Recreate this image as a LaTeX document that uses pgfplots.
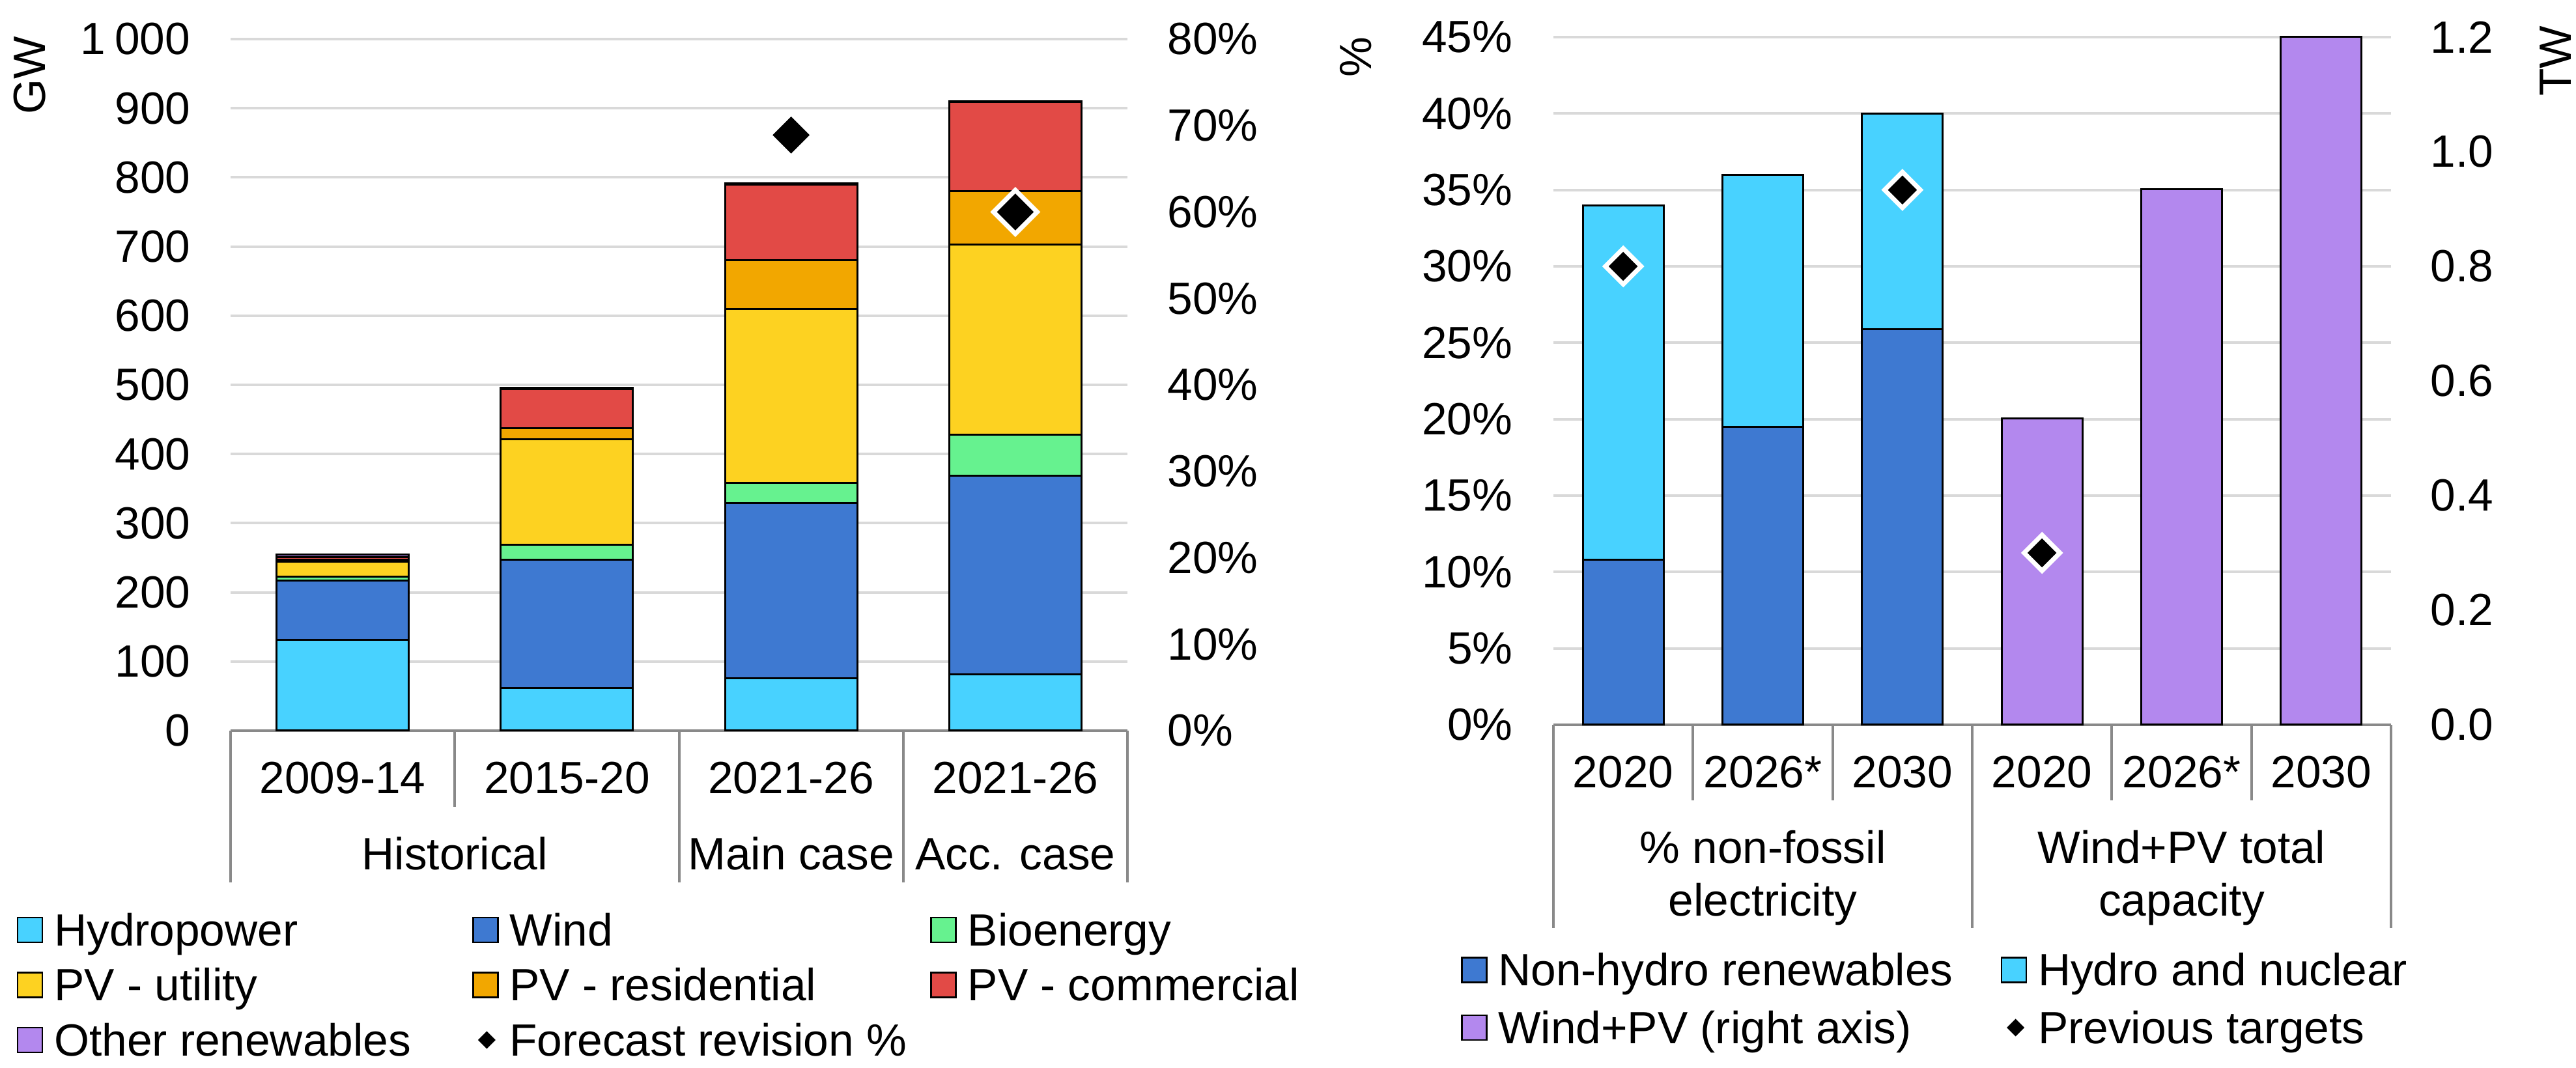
\documentclass[border=0pt]{standalone}
\usepackage{fontspec}
\setmainfont{Liberation Sans}
\usepackage{pgfplots}
\pgfplotsset{compat=1.18}
\newcommand\fs{\fontsize{19.75}{23.7}\selectfont}
\definecolor{hydro}{HTML}{48D2FF}
\definecolor{wind}{HTML}{3E79D1}
\definecolor{bio}{HTML}{66F28F}
\definecolor{pvu}{HTML}{FDD221}
\definecolor{pvr}{HTML}{F2A700}
\definecolor{pvc}{HTML}{E24A46}
\definecolor{other}{HTML}{B388EE}
\definecolor{windpv}{HTML}{B388EE}
\definecolor{gridgray}{HTML}{D9D9D9}
\definecolor{axisgray}{HTML}{898989}
\pgfplotsset{
  every axis/.append style={font=\fs},
  base/.style={
    scale only axis, enlargelimits=false, clip=false,
    major tick length=0pt, xtick style={draw=none}, ytick style={draw=none},
    axis line style={-},
  },
}
\newcommand\sep[2]{\draw[axisgray, line width=0.4mm] (axis cs:#1,0) -- ([yshift=-#2]axis cs:#1,0);}
\begin{document}
\begin{tikzpicture}[font=\fs]
\path[use as bounding box] (0,0) rectangle (395.5mm,164mm);

% ---------------- LEFT PANEL ----------------
\begin{axis}[base,
  at={(35.4mm,51.8mm)}, anchor=south west,
  width=137.7mm, height=106.2mm,
  xmin=-0.5, xmax=3.5, ymin=0, ymax=1000,
  ybar stacked, bar width=0.59,
  axis x line*=bottom, axis y line*=left,
  x axis line style={draw=axisgray, line width=0.45mm},
  y axis line style={draw=none},
  ymajorgrids, grid style={draw=gridgray, line width=0.4mm},
  ytick={0,100,200,300,400,500,600,700,800,900,1000},
  yticklabels={0,100,200,300,400,500,600,700,800,900,{1\hspace{0.2em}000}},
  yticklabel style={anchor=east, inner sep=0pt, xshift=-6.1mm},
  xtick={0,1,2,3},
  xticklabels={2009-14,2015-20,2021-26,2021-26},
  xticklabel style={anchor=base, inner sep=0pt, yshift=-9.7mm},
  every axis plot/.append style={draw=black, line width=0.3mm},
  legend image code/.code={\draw[#1,draw=black,line width=0.25mm] (0mm,-1.9mm) rectangle (3.8mm,1.9mm); \path[draw=none] (0mm,0mm) (5.6mm,0mm);},
  legend columns=3, legend cell align=left,
  legend style={draw=none, fill=none, inner sep=0pt, outer sep=0pt,
    at={(-0.2382,-0.24835)}, anchor=north west,
    column sep=0pt, row sep=0pt,
    /tikz/every even column/.style={column sep=0pt},
    /tikz/every odd column/.style={column sep=0pt},
    nodes={inner sep=0pt, outer sep=0pt, text height=6.65mm, text depth=1.8mm}},
]
\addplot[fill=hydro] coordinates {(0,131) (1,62) (2,76) (3,81)};
\addlegendentry{\makebox[64.2mm][l]{Hydropower}}
\addplot[fill=wind] coordinates {(0,86) (1,185) (2,253) (3,288)};
\addlegendentry{\makebox[64.6mm][l]{Wind}}
\addplot[fill=bio] coordinates {(0,6) (1,22) (2,29) (3,59)};
\addlegendentry{Bioenergy}
\addplot[fill=pvu] coordinates {(0,21) (1,152) (2,252) (3,275)};
\addlegendentry{\makebox[64.2mm][l]{PV - utility}}
\addplot[fill=pvr] coordinates {(0,3) (1,16) (2,70) (3,77)};
\addlegendentry{\makebox[64.6mm][l]{PV - residential}}
\addplot[fill=pvc] coordinates {(0,4) (1,57) (2,110) (3,129)};
\addlegendentry{PV - commercial}
\addplot[fill=other] coordinates {(0,4) (1,2) (2,1) (3,1)};
\addlegendentry{\makebox[64.2mm][l]{Other renewables}}
\addlegendimage{legend image code/.code={\fill[black,draw=none] (2.1mm,1.35mm) -- (3.45mm,0mm) -- (2.1mm,-1.35mm) -- (0.75mm,0mm) -- cycle; \path[draw=none] (0mm,0mm) (5.6mm,0mm);}}
\addlegendentry{Forecast revision \%}
% category separators and group labels
\sep{-0.5}{23.3mm}
\sep{0.5}{11.7mm}
\sep{1.5}{23.3mm}
\sep{2.5}{23.3mm}
\sep{3.5}{23.3mm}
\node[anchor=base, inner sep=0pt, yshift=-21.4mm] at (axis cs:0.5,0) {Historical};
\node[anchor=base, inner sep=0pt, yshift=-21.4mm] at (axis cs:2,0) {Main case};
\node[anchor=base, inner sep=0pt, yshift=-21.4mm] at (axis cs:3,0) {Acc. case};
\end{axis}

\begin{axis}[base,
  at={(35.4mm,51.8mm)}, anchor=south west,
  width=137.7mm, height=106.2mm,
  xmin=-0.5, xmax=3.5, ymin=0, ymax=80,
  hide x axis,
  axis y line*=right, y axis line style={draw=none},
  ytick={0,10,20,30,40,50,60,70,80},
  yticklabels={0\%,10\%,20\%,30\%,40\%,50\%,60\%,70\%,80\%},
  yticklabel style={anchor=west, inner sep=0pt, xshift=6.1mm},
]
\addplot[only marks, mark=square*, mark size=2.37mm,
  mark options={rotate=45, fill=black, draw=white, line width=0.7mm}]
  coordinates {(2,68.9) (3,60.0)};
\end{axis}

% ---------------- RIGHT PANEL ----------------
\begin{axis}[base,
  at={(238.5mm,52.7mm)}, anchor=south west,
  width=128.6mm, height=105.6mm,
  xmin=-0.5, xmax=5.5, ymin=0, ymax=45,
  ybar stacked, bar width=0.578,
  axis x line*=bottom, axis y line*=left,
  x axis line style={draw=axisgray, line width=0.45mm},
  y axis line style={draw=none},
  ymajorgrids, grid style={draw=gridgray, line width=0.4mm},
  ytick={0,5,10,15,20,25,30,35,40,45},
  yticklabels={0\%,5\%,10\%,15\%,20\%,25\%,30\%,35\%,40\%,45\%},
  yticklabel style={anchor=east, inner sep=0pt, xshift=-6.2mm},
  xtick={0,1,2,3,4,5},
  xticklabels={2020,2026*,2030,2020,2026*,2030},
  xticklabel style={anchor=base, inner sep=0pt, yshift=-9.7mm},
  every axis plot/.append style={draw=black, line width=0.3mm},
]
\addplot[fill=wind] coordinates {(0,10.8) (1,19.5) (2,25.9)};
\addplot[fill=hydro] coordinates {(0,23.2) (1,16.5) (2,14.1)};
\sep{-0.5}{31.2mm}
\sep{0.5}{11.6mm}
\sep{1.5}{11.6mm}
\sep{2.5}{31.2mm}
\sep{3.5}{11.6mm}
\sep{4.5}{11.6mm}
\sep{5.5}{31.2mm}
\node[anchor=base, inner sep=0pt, yshift=-21.25mm] at (axis cs:1,0) {\% non-fossil};
\node[anchor=base, inner sep=0pt, yshift=-29.35mm] at (axis cs:1,0) {electricity};
\node[anchor=base, inner sep=0pt, yshift=-21.25mm] at (axis cs:4,0) {Wind+PV total};
\node[anchor=base, inner sep=0pt, yshift=-29.35mm] at (axis cs:4,0) {capacity};
\end{axis}

\begin{axis}[base,
  at={(238.5mm,52.7mm)}, anchor=south west,
  width=128.6mm, height=105.6mm,
  xmin=-0.5, xmax=5.5, ymin=0, ymax=1.2,
  hide x axis,
  axis y line*=right, y axis line style={draw=none},
  ytick={0,0.2,0.4,0.6,0.8,1.0,1.2},
  yticklabels={0.0,0.2,0.4,0.6,0.8,1.0,1.2},
  yticklabel style={anchor=west, inner sep=0pt, xshift=6.0mm},
]
\addplot[ybar, bar width=0.578, bar shift=0pt, fill=windpv, draw=black, line width=0.3mm]
  coordinates {(3,0.535) (4,0.935) (5,1.2)};
\addplot[only marks, mark=square*, mark size=1.94mm,
  mark options={rotate=45, fill=black, draw=white, line width=0.7mm}]
  coordinates {(3,0.30)};
\end{axis}

\begin{axis}[base,
  at={(238.5mm,52.7mm)}, anchor=south west,
  width=128.6mm, height=105.6mm,
  xmin=-0.5, xmax=5.5, ymin=0, ymax=45,
  hide axis,
  legend image code/.code={\draw[#1,draw=black,line width=0.25mm] (0mm,-1.9mm) rectangle (3.8mm,1.9mm); \path[draw=none] (0mm,0mm) (5.6mm,0mm);},
  legend columns=2, legend cell align=left,
  legend style={draw=none, fill=none, inner sep=0pt, outer sep=0pt,
    at={(-0.11042,-0.31652)}, anchor=north west,
    column sep=0pt, row sep=0.4mm,
    /tikz/every even column/.style={column sep=0pt},
    /tikz/every odd column/.style={column sep=0pt},
    nodes={inner sep=0pt, outer sep=0pt, text height=6.65mm, text depth=1.8mm}},
]
\addlegendimage{fill=wind, draw=black}
\addlegendentry{\makebox[77.15mm][l]{Non-hydro renewables}}
\addlegendimage{fill=hydro, draw=black}
\addlegendentry{Hydro and nuclear}
\addlegendimage{fill=windpv, draw=black}
\addlegendentry{\makebox[77.15mm][l]{Wind+PV (right axis)}}
\addplot[only marks, mark=square*, mark size=1.94mm,
  mark options={rotate=45, fill=black, draw=white, line width=0.7mm},
  legend image code/.code={\fill[black,draw=none] (2.15mm,1.35mm) -- (3.5mm,0mm) -- (2.15mm,-1.35mm) -- (0.8mm,0mm) -- cycle; \path[draw=none] (0mm,0mm) (5.6mm,0mm);}]
  coordinates {(0,30.0) (2,35.0)};
\addlegendentry{Previous targets}
\end{axis}

% axis titles
\node[rotate=90, inner sep=0pt] at (4.6mm,152.4mm) {GW};
\node[rotate=90, inner sep=0pt] at (208.2mm,155.2mm) {\%};
\node[rotate=90, inner sep=0pt] at (392.4mm,154.6mm) {TW};
\end{tikzpicture}
\end{document}
